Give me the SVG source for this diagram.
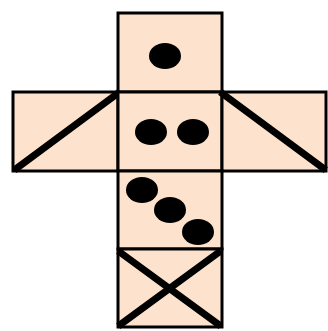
<svg xmlns="http://www.w3.org/2000/svg" width="328" height="331" viewBox="0 0 328 331">
<style>
.face{fill:#fde3cd;stroke:#000;stroke-width:3}
.diag{stroke:#000;stroke-width:7;stroke-linecap:square;fill:none}
.dot{fill:#000}
</style>
<rect width="328" height="331" fill="#fff"/>
<g id="face-top"><rect class="face" x="118" y="13" width="104" height="79"/><ellipse class="dot" cx="165" cy="56" rx="16" ry="13"/></g>
<g id="face-left"><rect class="face" x="13" y="92" width="105" height="79"/><line class="diag" x1="117" y1="94" x2="17" y2="168"/></g>
<g id="face-center"><rect class="face" x="118" y="92" width="104" height="79"/><ellipse class="dot" cx="151" cy="132" rx="16" ry="13"/><ellipse class="dot" cx="193" cy="132" rx="16" ry="13"/></g>
<g id="face-right"><rect class="face" x="222" y="92" width="104" height="79"/><line class="diag" x1="223" y1="94" x2="323" y2="168"/></g>
<g id="face-three"><rect class="face" x="118" y="171" width="104" height="78"/><ellipse class="dot" cx="142" cy="190" rx="16" ry="13"/><ellipse class="dot" cx="170" cy="210" rx="16" ry="13"/><ellipse class="dot" cx="198" cy="232" rx="16" ry="13"/></g>
<g id="face-bottom"><rect class="face" x="118" y="249" width="104" height="78"/><line class="diag" x1="121" y1="253" x2="218" y2="324"/><line class="diag" x1="218" y1="253" x2="121" y2="324"/></g>
</svg>
